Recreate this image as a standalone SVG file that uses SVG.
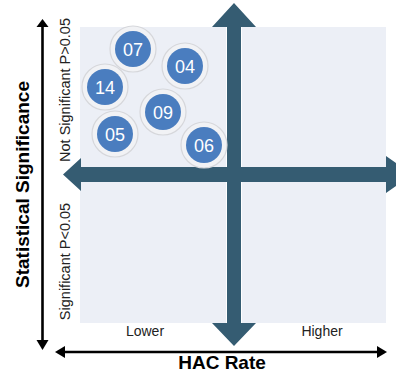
<svg xmlns="http://www.w3.org/2000/svg" width="396" height="374" viewBox="0 0 396 374">
  <style>
    .quad { fill: #ECEFF6; }
    .axis { fill: #355C72; }
    .guide { stroke: #000; stroke-width: 2.6; fill: none; }
    .tip { fill: #000; }
    .halo { fill: #F1F2F5; stroke: #D6D7DB; stroke-width: 1.2; }
    .dot { fill: #4A7DBF; }
    .num { font-family: "Liberation Sans", Arial, sans-serif; font-size: 18px; fill: #fff; text-anchor: middle; }
    .title { font-family: "Liberation Sans", Arial, sans-serif; font-size: 19px; font-weight: bold; fill: #000; text-anchor: middle; }
    .lbl { font-family: "Liberation Sans", Arial, sans-serif; font-size: 14.5px; fill: #222; text-anchor: middle; }
  </style>
  <rect width="396" height="374" fill="#fff"/>

  <!-- quadrant panels -->
  <g id="panels">
    <rect class="quad" x="80" y="27" width="146" height="140"/>
    <rect class="quad" x="242" y="27" width="144" height="140"/>
    <rect class="quad" x="80" y="182" width="146" height="141"/>
    <rect class="quad" x="242" y="182" width="144" height="141"/>
  </g>

  <!-- axes and outer guide arrows -->
  <g id="connectors">
    <polygon class="axis" points="63,174.5 81,158 81,167 386,167 386,156 412,174.5 386,193 386,182 81,182 81,191"/>
    <polygon class="axis" points="234,3 256,27 241,27 241,323 256,323 234,346 212,323 227,323 227,27 212,27"/>
    <line class="guide" x1="42.5" y1="26" x2="42.5" y2="342"/>
    <polygon class="tip" points="42.5,19 36.5,27 48.5,27"/>
    <polygon class="tip" points="42.5,350 36.5,340 48.5,340"/>
    <line class="guide" x1="63" y1="352" x2="379" y2="352"/>
    <polygon class="tip" points="55,352 65,346 65,358"/>
    <polygon class="tip" points="387,352 377,346 377,358"/>
  </g>

  <!-- data points -->
  <g id="n07"><circle class="halo" cx="133" cy="49" r="23"/><circle class="dot" cx="133" cy="49" r="18"/><text class="num" x="133" y="55.5">07</text></g>
  <g id="n04"><circle class="halo" cx="185" cy="66" r="23"/><circle class="dot" cx="185" cy="66" r="18"/><text class="num" x="185" y="72.5">04</text></g>
  <g id="n14"><circle class="halo" cx="105" cy="87" r="23"/><circle class="dot" cx="105" cy="87" r="18"/><text class="num" x="105" y="93.5">14</text></g>
  <g id="n09"><circle class="halo" cx="163" cy="112" r="23"/><circle class="dot" cx="163" cy="112" r="18"/><text class="num" x="163" y="118.5">09</text></g>
  <g id="n05"><circle class="halo" cx="115" cy="134" r="23"/><circle class="dot" cx="115" cy="134" r="18"/><text class="num" x="115" y="140.5">05</text></g>
  <g id="n06"><circle class="halo" cx="204" cy="145" r="23"/><circle class="dot" cx="204" cy="145" r="18"/><text class="num" x="204" y="151.5">06</text></g>

  <!-- labels -->
  <g id="labels">
    <text class="title" transform="translate(29,184.5) rotate(-90)">Statistical Significance</text>
    <text class="title" x="222" y="369">HAC Rate</text>
    <text class="lbl" transform="translate(70,90) rotate(-90)">Not Significant P&gt;0.05</text>
    <text class="lbl" transform="translate(70,261.5) rotate(-90)">Significant P&lt;0.05</text>
    <text class="lbl" x="145" y="336" style="font-size:14px">Lower</text>
    <text class="lbl" x="322" y="336" style="font-size:14px">Higher</text>
  </g>
</svg>
